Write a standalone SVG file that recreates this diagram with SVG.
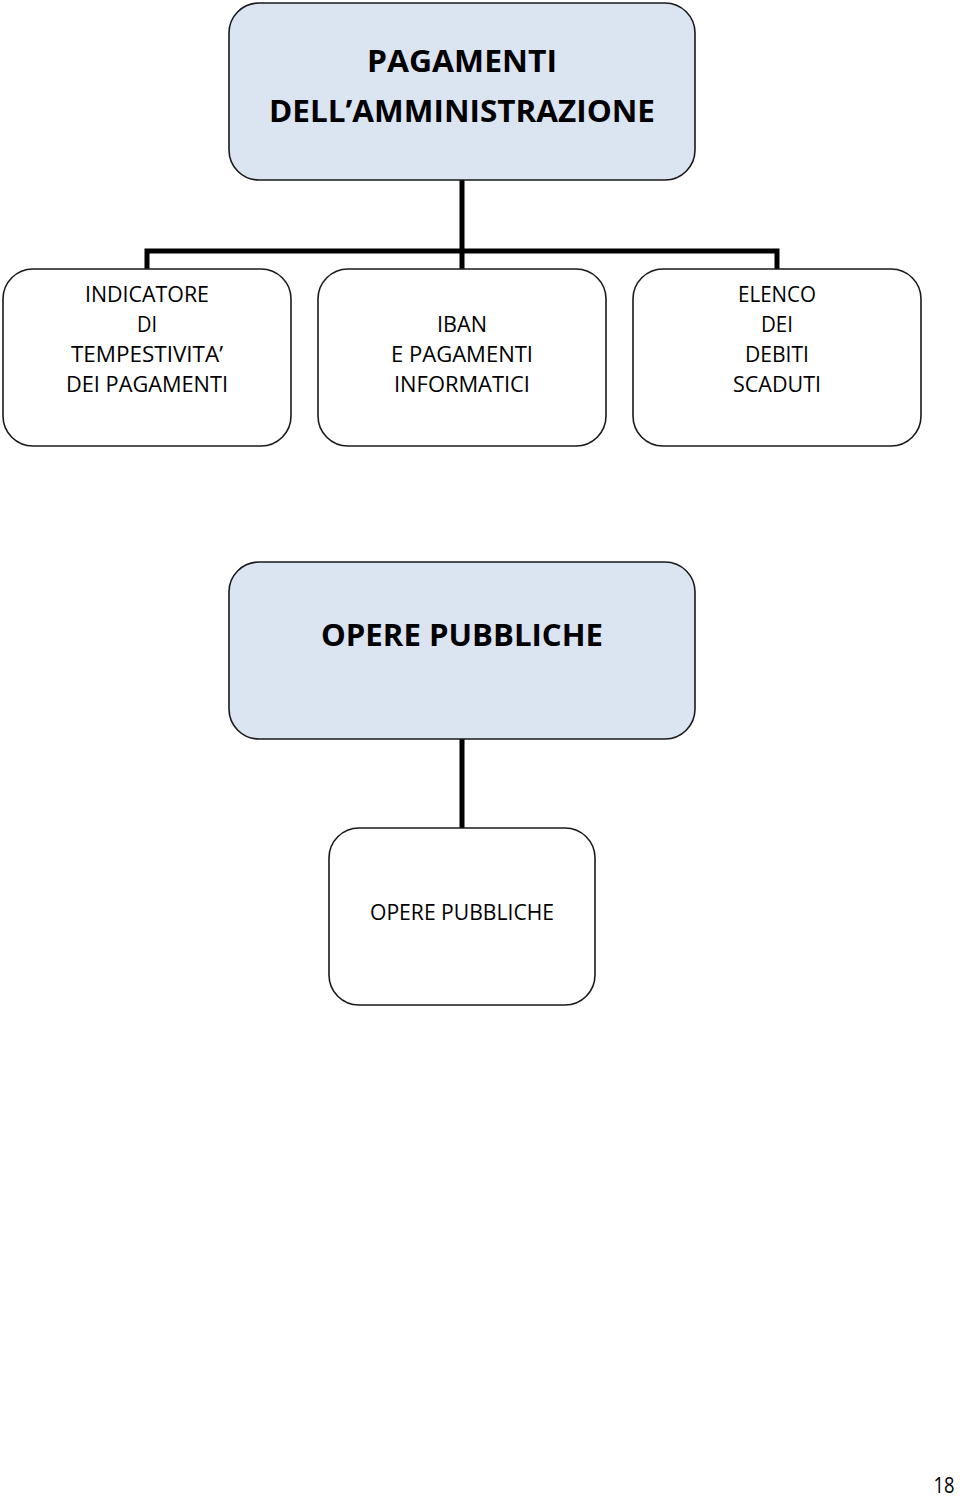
<svg xmlns="http://www.w3.org/2000/svg" width="960" height="1497" viewBox="0 0 960 1497">
<style>
.head{fill:#dbe5f1;stroke:#1a1a1a;stroke-width:1.6}
.box{fill:#ffffff;stroke:#1a1a1a;stroke-width:1.6}
.conn{fill:none;stroke:#000;stroke-width:5;stroke-linejoin:miter}
.tb{font-family:"Open Sans","Liberation Sans",sans-serif;font-weight:bold;font-size:31px;fill:#000;text-anchor:middle;dominant-baseline:central}
.t{font-family:"Open Sans","Liberation Sans",sans-serif;font-size:21px;fill:#000;text-anchor:middle;dominant-baseline:central}
</style>
<rect width="960" height="1497" fill="#fff"/>
<g id="connectors">
<path class="conn" d="M462 180 V251 M147 270 V251 H777 V270 M462 251 V270"/>
<path class="conn" d="M462 739 V829"/>
</g>
<g id="n-pagamenti">
<rect class="head" x="229" y="3" width="466" height="177" rx="30"/>
<text class="tb" x="462" y="60" textLength="190" lengthAdjust="spacingAndGlyphs">PAGAMENTI</text>
<text class="tb" x="462" y="110" textLength="386" lengthAdjust="spacingAndGlyphs">DELL’AMMINISTRAZIONE</text>
</g>
<g id="n-indicatore">
<rect class="box" x="3" y="269" width="288" height="177" rx="30"/>
<text class="t" x="147" y="294" textLength="124" lengthAdjust="spacingAndGlyphs">INDICATORE</text>
<text class="t" x="147" y="324" textLength="20" lengthAdjust="spacingAndGlyphs">DI</text>
<text class="t" x="147" y="354" textLength="152" lengthAdjust="spacingAndGlyphs">TEMPESTIVITA’</text>
<text class="t" x="147" y="384" textLength="162" lengthAdjust="spacingAndGlyphs">DEI PAGAMENTI</text>
</g>
<g id="n-iban">
<rect class="box" x="318" y="269" width="288" height="177" rx="30"/>
<text class="t" x="462" y="324" textLength="50" lengthAdjust="spacingAndGlyphs">IBAN</text>
<text class="t" x="462" y="354" textLength="142" lengthAdjust="spacingAndGlyphs">E PAGAMENTI</text>
<text class="t" x="462" y="384" textLength="136" lengthAdjust="spacingAndGlyphs">INFORMATICI</text>
</g>
<g id="n-elenco">
<rect class="box" x="633" y="269" width="288" height="177" rx="30"/>
<text class="t" x="777" y="294" textLength="78" lengthAdjust="spacingAndGlyphs">ELENCO</text>
<text class="t" x="777" y="324" textLength="32" lengthAdjust="spacingAndGlyphs">DEI</text>
<text class="t" x="777" y="354" textLength="64" lengthAdjust="spacingAndGlyphs">DEBITI</text>
<text class="t" x="777" y="384" textLength="88" lengthAdjust="spacingAndGlyphs">SCADUTI</text>
</g>
<g id="n-opere-head">
<rect class="head" x="229" y="562" width="466" height="177" rx="30"/>
<text class="tb" x="462" y="634" textLength="282" lengthAdjust="spacingAndGlyphs">OPERE PUBBLICHE</text>
</g>
<g id="n-opere">
<rect class="box" x="329" y="828" width="266" height="177" rx="30"/>
<text class="t" x="462" y="912" textLength="184" lengthAdjust="spacingAndGlyphs">OPERE PUBBLICHE</text>
</g>
<text class="t" x="944" y="1485" font-size="19" textLength="21" lengthAdjust="spacingAndGlyphs">18</text>
</svg>
